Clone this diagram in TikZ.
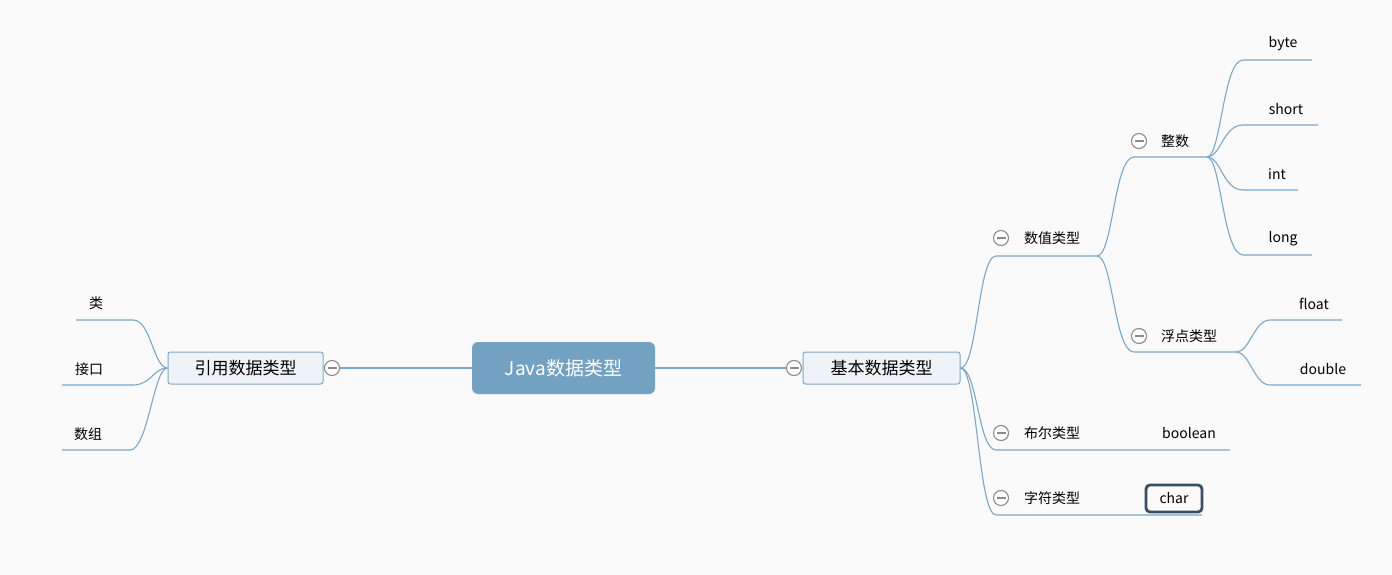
\documentclass[tikz,border=0pt]{standalone}
\usepackage{fontspec}
\setmainfont{Noto Sans CJK SC}
\definecolor{bg}{HTML}{FAFAFA}
\definecolor{ln}{HTML}{7BA7C8}
\definecolor{mainfill}{HTML}{73A1C1}
\definecolor{subfill}{HTML}{EEF3F7}
\definecolor{circ}{HTML}{8C8C8C}
\definecolor{charb}{HTML}{3B4F61}
\begin{document}
\begin{tikzpicture}[x=1pt,y=-1pt,
  conn/.style={draw=ln, line width=1.1pt},
  lbl/.style={font=\fontsize{14}{16}\selectfont, text=black, inner sep=0pt},
  collapse/.style={circle, draw=circ, fill=white, minimum size=15pt, inner sep=0pt, line width=1.1pt,
    path picture={\draw[circ,line width=1.1pt] ([xshift=3pt]path picture bounding box.west) -- ([xshift=-3pt]path picture bounding box.east);}},
  subbox/.style={draw=ln, fill=subfill, rounded corners=2.5pt, line width=1pt, minimum height=32pt,
    font=\fontsize{17}{20}\selectfont, text=black, inner sep=0pt}]
\useasboundingbox[fill=bg] (0,0) rectangle (1392,575);

% main nodes
\node[rounded corners=6pt, fill=mainfill, minimum width=183pt, minimum height=52pt, text=white,
  font=\fontsize{19}{22}\selectfont, inner sep=0pt] (root) at (563.5,368) {Java数据类型};
\node[subbox, minimum width=157pt] (basic) at (881.5,368) {基本数据类型};
\node[subbox, minimum width=155pt] (ref) at (245.5,368) {引用数据类型};
\node[collapse] (cb) at (794,368) {};
\node[collapse] (cr) at (332,368) {};

\draw[conn] (root.east) -- (cb.west);
\draw[conn] (root.west) -- (cr.east);

% right labels
\node[collapse] (c1) at (1001,238) {};
\node[lbl] (num) at (1052,238) {数值类型};
\node[collapse] (c2) at (1139,141) {};
\node[lbl] (intg) at (1175,141) {整数};
\node[collapse] (c3) at (1139,336) {};
\node[lbl] (flt) at (1189,336) {浮点类型};
\node[collapse] (c4) at (1001,433) {};
\node[lbl] (boolt) at (1052,433) {布尔类型};
\node[lbl] (bool) at (1189,433) {boolean};
\node[collapse] (c5) at (1001,498) {};
\node[lbl] (chrt) at (1052,498) {字符类型};
\node[draw=charb, line width=2.8pt, rounded corners=4pt, minimum width=56pt, minimum height=27pt,
  font=\fontsize{14}{16}\selectfont, inner sep=0pt] (chr) at (1174,498.5) {char};

\node[lbl] (byte) at (1283,44) {byte};
\node[lbl] (short) at (1286,109) {short};
\node[lbl] (int) at (1277,174) {int};
\node[lbl] (long) at (1283,239) {long};
\node[lbl] (float) at (1314,304) {float};
\node[lbl] (double) at (1323,369) {double};

% left labels
\node[lbl] (cls) at (96,303) {类};
\node[lbl] (itf) at (89,369) {接口};
\node[lbl] (arr) at (88,434) {数组};

% coordinates of underlines
\coordinate (numA) at (996,256);  \coordinate (numB) at (1097,256);
\coordinate (boolA) at (996,450); \coordinate (boolB) at (1230,450);
\coordinate (chrA) at (996,515);  \coordinate (chrB) at (1202,515);
\coordinate (intA) at (1134,157); \coordinate (intB) at (1207,157);
\coordinate (fltA) at (1134,352); \coordinate (fltB) at (1236,352);
\coordinate (byteA) at (1243,60);  \coordinate (byteB) at (1312,60);
\coordinate (shortA) at (1243,125); \coordinate (shortB) at (1318,125);
\coordinate (intlA) at (1243,190); \coordinate (intlB) at (1298,190);
\coordinate (longA) at (1243,255); \coordinate (longB) at (1312,255);
\coordinate (floatA) at (1270,320); \coordinate (floatB) at (1342,320);
\coordinate (dblA) at (1270,385); \coordinate (dblB) at (1361,385);
\coordinate (clsA) at (133,320); \coordinate (clsB) at (76,320);
\coordinate (itfA) at (133,385); \coordinate (itfB) at (62,385);
\coordinate (arrA) at (130,450); \coordinate (arrB) at (62,450);

% right connectors
\foreach \a/\b in {numA/numB, boolA/boolB, chrA/chrB}
  \draw[conn] (basic.east) .. controls +(17,0) and +(-18,0) .. (\a) -- (\b);
\foreach \a/\b in {intA/intB, fltA/fltB}
  \draw[conn] (numB) .. controls +(16,0) and +(-20,0) .. (\a) -- (\b);
\foreach \a/\b in {byteA/byteB, shortA/shortB, intlA/intlB, longA/longB}
  \draw[conn] (intB) .. controls +(14,0) and +(-20,0) .. (\a) -- (\b);
\foreach \a/\b in {floatA/floatB, dblA/dblB}
  \draw[conn] (fltB) .. controls +(14,0) and +(-16,0) .. (\a) -- (\b);

% left connectors
\foreach \a/\b in {clsA/clsB, itfA/itfB, arrA/arrB}
  \draw[conn] (ref.west) .. controls +(-14,0) and +(18,0) .. (\a) -- (\b);
\end{tikzpicture}
\end{document}
